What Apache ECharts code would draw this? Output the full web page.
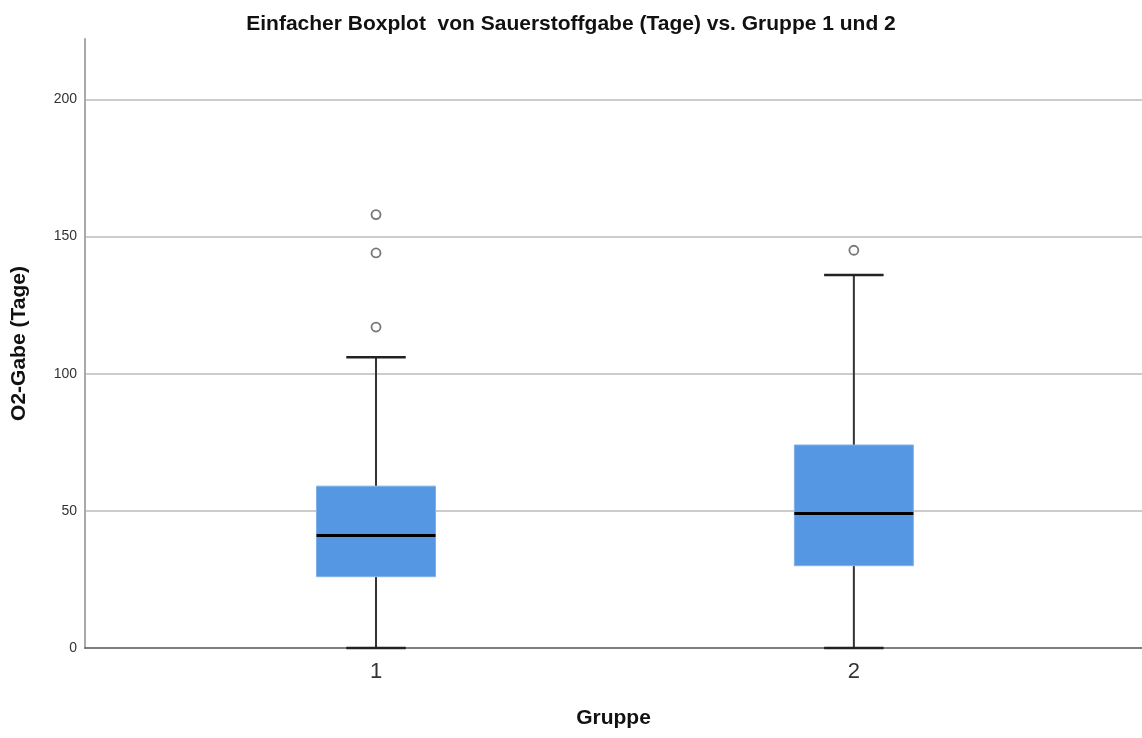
<!DOCTYPE html>
<html>
<head>
<meta charset="utf-8">
<script src="https://cdn.jsdelivr.net/npm/echarts@6/dist/echarts.min.js"></script>
<style>
html,body{margin:0;padding:0;background:#fff;}
#chart{width:1142px;height:738px;}
</style>
</head>
<body>
<div id="chart"></div>
<script>
// ---- data ----
const groups = [1, 2];
const groupLabels = ['1', '2'];
const whiskerLow = [0, 0];
const q1 = [26, 30];
const medians = [41, 49];
const q3 = [59, 74];
const whiskerHigh = [106, 136];
const outlierGroup = [1, 1, 1, 2];
const outlierValue = [158, 144, 117, 145];
const yTicks = [0, 50, 100, 150, 200];

const titleText = 'Einfacher Boxplot  von Sauerstoffgabe (Tage) vs. Gruppe 1 und 2';
const xName = 'Gruppe';
const yName = 'O2-Gabe (Tage)';

const boxData = groups.map((g, i) => [g, whiskerLow[i], q1[i], medians[i], q3[i], whiskerHigh[i]]);
const outlierData = outlierGroup.map((g, i) => [g, outlierValue[i]]);

const FONT = '"Liberation Sans", Arial, sans-serif';
const chart = echarts.init(document.getElementById('chart'));

function renderBox(params, api) {
  const x = api.value(0);
  const pLow = api.coord([x, api.value(1)]);
  const pQ1 = api.coord([x, api.value(2)]);
  const pMed = api.coord([x, api.value(3)]);
  const pQ3 = api.coord([x, api.value(4)]);
  const pHigh = api.coord([x, api.value(5)]);
  const unit = api.size([1, 0])[0];
  const boxW = unit * 0.249;
  const capW = boxW / 2;
  const cx = pMed[0];
  const whiskerStyle = { stroke: '#333', lineWidth: 2 };
  return {
    type: 'group',
    children: [
      { type: 'line', shape: { x1: cx, y1: pLow[1], x2: cx, y2: pQ1[1] }, style: whiskerStyle },
      { type: 'line', shape: { x1: cx, y1: pQ3[1], x2: cx, y2: pHigh[1] }, style: whiskerStyle },
      { type: 'line', shape: { x1: cx - capW / 2, y1: pLow[1], x2: cx + capW / 2, y2: pLow[1] }, style: { stroke: '#222', lineWidth: 2.5 } },
      { type: 'line', shape: { x1: cx - capW / 2, y1: pHigh[1], x2: cx + capW / 2, y2: pHigh[1] }, style: { stroke: '#222', lineWidth: 2.5 } },
      { type: 'rect', shape: { x: cx - boxW / 2, y: pQ3[1], width: boxW, height: pQ1[1] - pQ3[1] },
        style: { fill: '#5597e3', stroke: '#7eb0ea', lineWidth: 1 } },
      { type: 'line', shape: { x1: cx - boxW / 2, y1: pMed[1], x2: cx + boxW / 2, y2: pMed[1] }, style: { stroke: '#000', lineWidth: 3 } }
    ]
  };
}

chart.setOption({
  animation: false,
  backgroundColor: '#fff',
  title: {
    text: titleText,
    left: 'center',
    top: 9,
    textStyle: { fontFamily: FONT, fontSize: 21, fontWeight: 'bold', color: '#111' }
  },
  grid: { left: 85, right: 0, top: 39, bottom: 90, containLabel: false },
  xAxis: {
    type: 'value',
    min: 0.391,
    max: 2.603,
    name: xName,
    nameLocation: 'middle',
    nameGap: 60,
    nameTextStyle: { fontFamily: FONT, fontSize: 21, fontWeight: 'bold', color: '#111' },
    axisLine: { show: true, onZero: false, lineStyle: { color: '#555', width: 1.5 } },
    axisTick: { show: false },
    splitLine: { show: false },
    axisLabel: {
      fontFamily: FONT, fontSize: 22, color: '#333', margin: 13,
      showMinLabel: false, showMaxLabel: false,
      formatter: function (v) {
        const i = groups.indexOf(v);
        return i >= 0 ? groupLabels[i] : '';
      }
    }
  },
  yAxis: {
    type: 'value',
    min: yTicks[0],
    max: 222,
    interval: 50,
    name: yName,
    nameLocation: 'middle',
    nameGap: 55,
    nameTextStyle: { fontFamily: FONT, fontSize: 21, fontWeight: 'bold', color: '#111' },
    axisLine: { show: true, lineStyle: { color: '#a8a8a8', width: 2 } },
    axisTick: { show: false },
    axisLabel: {
      fontFamily: FONT, fontSize: 14, color: '#333', margin: 8,
      showMaxLabel: false,
      formatter: function (v) { return yTicks.indexOf(v) >= 0 ? String(v) : ''; }
    },
    splitLine: { show: true, showMinLine: false, showMaxLine: false, lineStyle: { color: '#cccccc', width: 2 } }
  },
  series: [
    {
      type: 'custom',
      renderItem: renderBox,
      encode: { x: 0, y: [1, 2, 3, 4, 5] },
      data: boxData,
      z: 3
    },
    {
      type: 'scatter',
      data: outlierData,
      symbol: 'circle',
      symbolSize: 9,
      itemStyle: { color: '#fff', borderColor: '#555', borderWidth: 1.8 },
      z: 4
    }
  ]
});
</script>
</body>
</html>
